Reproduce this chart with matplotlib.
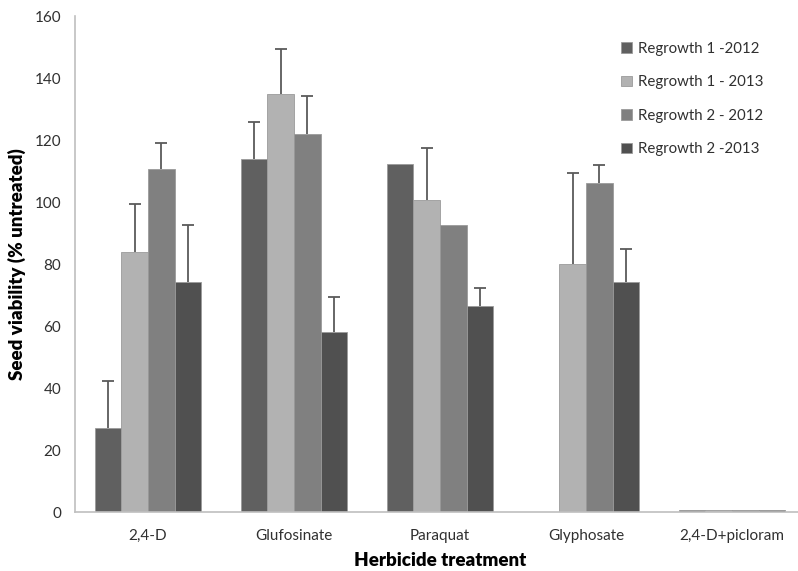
import numpy as np
import matplotlib.pyplot as plt

plt.rcParams['font.family'] = ['Lato', 'DejaVu Sans']

herbicides = ['2,4-D', 'Glufosinate', 'Paraquat', 'Glyphosate', '2,4-D+picloram']
series = ['Regrowth 1 -2012', 'Regrowth 1 - 2013', 'Regrowth 2 - 2012', 'Regrowth 2 -2013']

r1_2012 = [27.2, 114.0, 112.3, 0.0, 0.5]
r1_2013 = [84.0, 134.7, 100.5, 80.1, 0.5]
r2_2012 = [110.7, 121.8, 92.7, 106.0, 0.5]
r2_2013 = [74.3, 58.0, 66.5, 74.3, 0.5]

r1_2012_err = [15.2, 11.7, 0, 0, 0]
r1_2013_err = [15.5, 14.5, 16.8, 29.4, 0]
r2_2012_err = [8.2, 12.3, 0, 5.8, 0]
r2_2013_err = [18.4, 11.2, 5.9, 10.5, 0]

values = [r1_2012, r1_2013, r2_2012, r2_2013]
errors = [r1_2012_err, r1_2013_err, r2_2012_err, r2_2013_err]
colors = ['#606060', '#b2b2b2', '#808080', '#505050']

fig = plt.figure(figsize=(7.98, 5.71), dpi=100)
ax = fig.add_axes([75 / 798, 59 / 571, 730 / 798, 496 / 571])

x = np.arange(len(herbicides))
w = 0.182
for i, (vals, errs, c, name) in enumerate(zip(values, errors, colors, series)):
    pos = x + (i - 1.5) * w
    ax.bar(pos, vals, w, color=c, edgecolor='#9a9a9a', linewidth=0.6, label=name)
    vals = np.array(vals)
    errs = np.array(errs)
    has = errs > 0
    # upper-only error bars: stem plus a cap at the top
    ax.vlines(pos[has], vals[has], vals[has] + errs[has], color='#5a5a5a', linewidth=1.3)
    ax.plot(pos[has], vals[has] + errs[has], ls='none', marker='_', ms=8,
            mew=1.3, color='#5a5a5a')

ax.set_xlim(-0.5, len(herbicides) - 0.5)
ax.set_ylim(0, 160)
ax.set_yticks(np.arange(0, 161, 20))
ax.set_xticks(x)
ax.set_xticklabels(herbicides)
ax.tick_params(axis='both', length=0, labelsize=11, colors='#303030')
ax.tick_params(axis='x', pad=12)
ax.tick_params(axis='y', pad=10)

for side in ['top', 'right']:
    ax.spines[side].set_visible(False)
for side in ['left', 'bottom']:
    ax.spines[side].set_color('#bfbfbf')
    ax.spines[side].set_linewidth(1.2)

ax.set_xlabel('Herbicide treatment', fontsize=13.5, fontweight='heavy')
ax.xaxis.set_label_coords(0.5, -0.081)
ax.set_ylabel('Seed viability (% untreated)', fontsize=13.5, fontweight='heavy', labelpad=6)

leg = ax.legend(loc='upper left', bbox_to_anchor=(0.73, 0.975), frameon=False,
                fontsize=10.8, handlelength=0.7, handleheight=0.7,
                handletextpad=0.4, labelspacing=1.3)
for t in leg.get_texts():
    t.set_color('#303030')

fig.savefig('out.png', dpi=100)
